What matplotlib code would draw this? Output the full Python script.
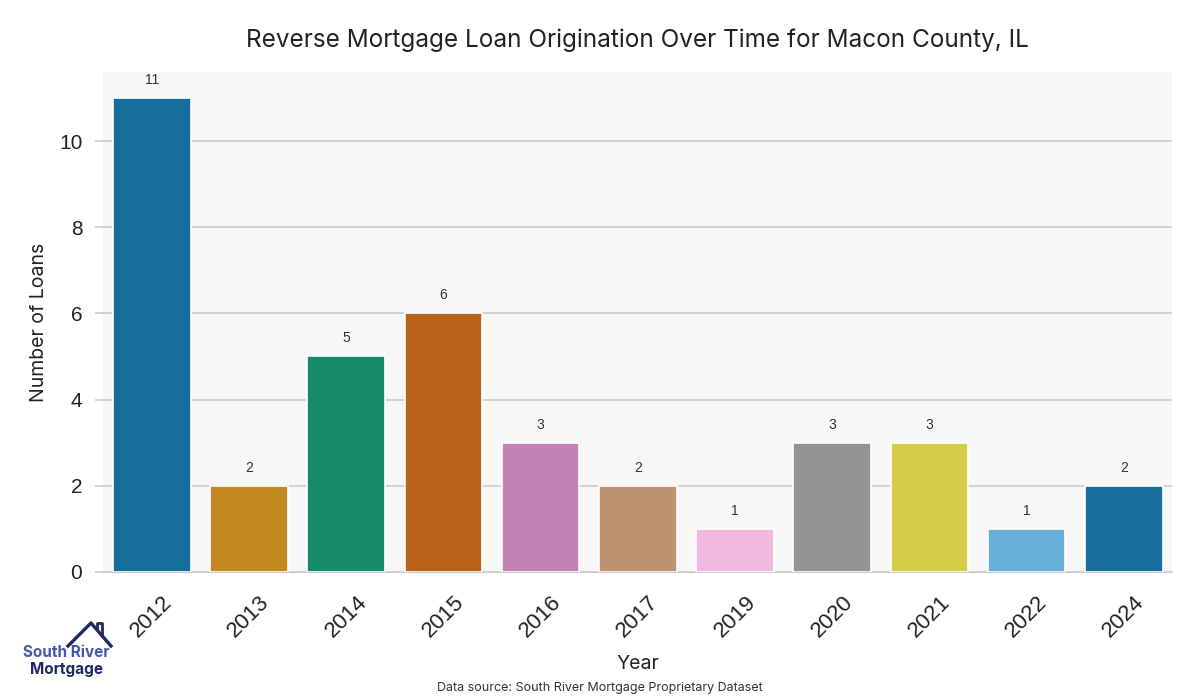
import matplotlib
matplotlib.use("Agg")
import matplotlib.pyplot as plt
import matplotlib.colors as mcolors
import colorsys
from matplotlib.lines import Line2D

years = ["2012", "2013", "2014", "2015", "2016", "2017", "2019", "2020", "2021", "2022", "2024"]
loans = [11, 2, 5, 6, 3, 2, 1, 3, 3, 1, 2]

base_palette = ["#0173b2", "#de8f05", "#029e73", "#d55e00", "#cc78bc",
                "#ca9161", "#fbafe4", "#949494", "#ece133", "#56b4e9"]


def desat(c, prop=0.75):
    r, g, b = mcolors.to_rgb(c)
    h, l, s = colorsys.rgb_to_hls(r, g, b)
    return colorsys.hls_to_rgb(h, l, s * prop)


colors = [desat(base_palette[i % len(base_palette)]) for i in range(len(years))]

fig = plt.figure(figsize=(12, 7), dpi=100)
ax = fig.add_axes([0.086, 0.183, 0.891, 0.714])
ax.set_facecolor("#f7f7f7")

x = list(range(len(years)))
bars = ax.bar(x, loans, width=0.8, color=colors, edgecolor="white", linewidth=1.2, zorder=3)
ax.set_xlim(-0.5, len(years) - 0.5)
ax.set_ylim(0, 11.6)
ax.set_yticks([0, 2, 4, 6, 8, 10])
ax.set_xticks(x)
ax.set_xticklabels(years, rotation=45, fontsize=16, color="#222222",
                   family=["Liberation Sans", "DejaVu Sans"])
for lbl in ax.get_yticklabels():
    lbl.set_fontsize(15)
    lbl.set_color("#222222")
    lbl.set_family(["Liberation Sans", "DejaVu Sans"])

ax.grid(axis="y", color="#cccccc", linewidth=1.2, zorder=0)
ax.grid(axis="x", visible=False)
for s in ["top", "right", "left"]:
    ax.spines[s].set_visible(False)
ax.spines["bottom"].set_color("#cccccc")
ax.tick_params(axis="y", length=6, color="#cccccc", width=1.2, pad=9)
ax.tick_params(axis="x", length=0, pad=14)

for xi, v in zip(x, loans):
    ax.annotate(str(v), (xi, v), xytext=(0, 8), textcoords="offset points",
                ha="center", va="bottom", fontsize=10, color="#333333",
                family=["Liberation Sans", "DejaVu Sans"])

ax.set_ylabel("Number of Loans", fontsize=14, color="#222222", family=["Inter", "DejaVu Sans"], labelpad=8)
ax.set_xlabel("Year", fontsize=14, color="#222222", family=["Inter", "DejaVu Sans"], labelpad=10)
ax.set_title("Reverse Mortgage Loan Origination Over Time for Macon County, IL",
             fontsize=17.5, color="#222222", family=["Inter", "DejaVu Sans"], pad=18)
fig.text(0.5, 0.017, "Data source: South River Mortgage Proprietary Dataset",
         ha="center", va="center", fontsize=9, color="#333333", family=["Inter", "DejaVu Sans"])

# logo
fig.text(0.0555, 0.068, "South River", ha="center", va="center", fontsize=11,
         color="#4657a8", fontweight="bold", family=["Inter", "DejaVu Sans"])
fig.text(0.0555, 0.044, "Mortgage", ha="center", va="center", fontsize=11,
         color="#1f2a60", fontweight="bold", family=["Inter", "DejaVu Sans"])
fig.add_artist(Line2D([68 / 1200, 91 / 1200, 111 / 1200], [1 - 646 / 700, 1 - 623 / 700, 1 - 646 / 700],
                      color="#1f2a60", linewidth=2.4, transform=fig.transFigure))
fig.add_artist(Line2D([97 / 1200, 97 / 1200, 102 / 1200, 102 / 1200], [1 - 629 / 700, 1 - 623 / 700, 1 - 623 / 700, 1 - 636 / 700],
                      color="#1f2a60", linewidth=2.0, transform=fig.transFigure))

fig.savefig("out.png", dpi=100)
